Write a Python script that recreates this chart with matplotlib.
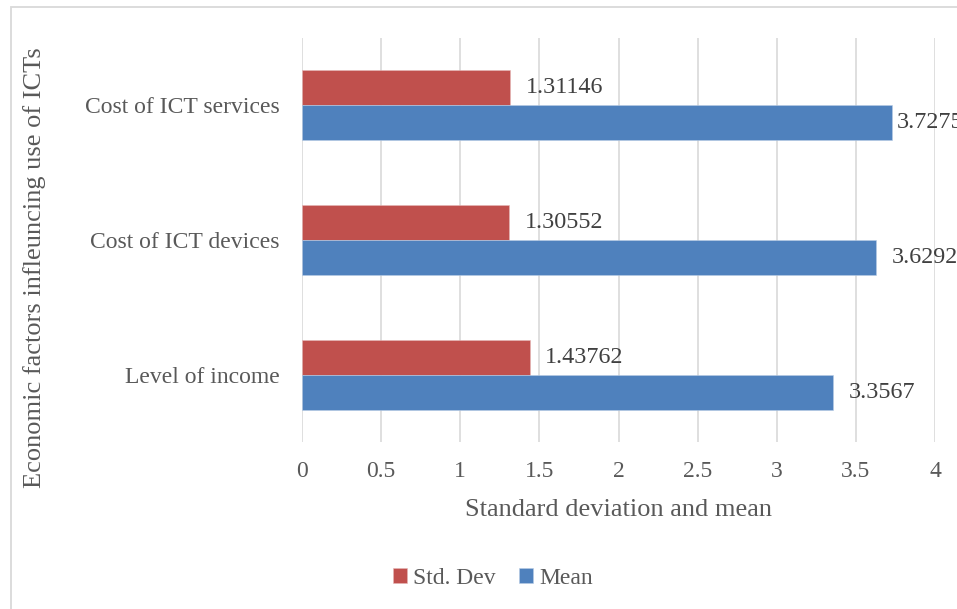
import matplotlib.pyplot as plt
import numpy as np
from matplotlib.patches import Rectangle

# economic factors and their summary statistics
factors = ["Level of income", "Cost of ICT devices", "Cost of ICT services"]
std_dev = [1.43762, 1.30552, 1.31146]
mean = [3.3567, 3.6292, 3.7275]
std_labels = ["1.43762", "1.30552", "1.31146"]
mean_labels = ["3.3567", "3.6292", "3.7275"]
xticks = [0, 0.5, 1, 1.5, 2, 2.5, 3, 3.5, 4]
xtick_labels = ["0", "0.5", "1", "1.5", "2", "2.5", "3", "3.5", "4"]

red = "#C0504D"
blue = "#4F81BD"
text_col = "#595959"
grid_col = "#D9D9D9"

plt.rcParams['font.family'] = ['Liberation Serif', 'DejaVu Serif']

W, H = 957, 609
fig = plt.figure(figsize=(W / 100, H / 100), dpi=100)
ax = fig.add_axes([302 / W, 1 - 442 / H, 633 / W, 404 / H])

# light frame round the whole chart area
fig.patches.append(Rectangle((10.5 / W, -0.1), 1.2, (H - 7) / H + 0.1,
                             transform=fig.transFigure, fill=False,
                             edgecolor="#D9D9D9", linewidth=1.3))

y = np.arange(len(factors))
h = 0.26
ax.barh(y + h / 2, std_dev, height=h, color=red, edgecolor="#E6B8B7",
        linewidth=0.4, label="Std. Dev", zorder=3)
ax.barh(y - h / 2, mean, height=h, color=blue, edgecolor="#B9CDE5",
        linewidth=0.4, label="Mean", zorder=3)

ax.set_xlim(0, 4)
ax.set_ylim(-0.5, 2.5)

# value labels right of each bar, pulled back if they would run past the chart
max_start = 3.76


def put_label(v, yy, s):
    x = min(v + 0.1, max_start)
    ax.text(x, yy, s, va="center", ha="left", fontsize=17.4,
            color="#404040", clip_on=False)


for yi, v, s in zip(y, std_dev, std_labels):
    put_label(v, yi + h / 2, s)
for yi, v, s in zip(y, mean, mean_labels):
    put_label(v, yi - h / 2, s)

ax.set_xticks(xticks)
ax.set_xticklabels(xtick_labels)
ax.set_yticks(y)
ax.set_yticklabels(factors)
ax.tick_params(axis="both", length=0, labelsize=17, labelcolor=text_col)
ax.tick_params(axis="x", pad=14)
ax.tick_params(axis="y", pad=16)
ax.grid(axis="x", color=grid_col, linewidth=1.2, zorder=0)
for sp in ax.spines.values():
    sp.set_visible(False)

ax.set_xlabel("Standard deviation and mean", fontsize=19, color=text_col, labelpad=12)
fig.text(35 / W, 1 - 268 / H, "Economic factors infleuncing use of ICTs",
         rotation=90, ha="center", va="center", fontsize=19, color=text_col)

fig.legend(loc="center", bbox_to_anchor=(493 / W, 1 - 578 / H), ncol=2,
           frameon=False, fontsize=17, handlelength=0.6, handleheight=0.6,
           handletextpad=0.25, columnspacing=1.0, labelcolor=text_col)

fig.savefig("out.png", dpi=100)
